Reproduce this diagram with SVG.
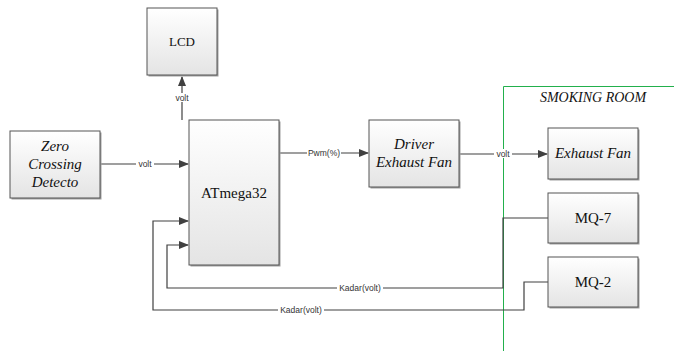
<svg xmlns="http://www.w3.org/2000/svg" width="674" height="351" viewBox="0 0 674 351">
<defs>
<linearGradient id="g" x1="0" y1="0" x2="0" y2="1">
<stop offset="0" stop-color="#ffffff"/>
<stop offset="1" stop-color="#e4e4e4"/>
</linearGradient>
<marker id="ah" markerWidth="10" markerHeight="8" refX="9" refY="4" orient="auto" markerUnits="userSpaceOnUse">
<path d="M0,0 L10,4 L0,8 Z" fill="#404040"/>
</marker>
<style>
.box{fill:url(#g);stroke:#555;stroke-width:1}
.sh{fill:#a0a0a0}
.t{font-family:"Liberation Serif","Times New Roman",serif;font-size:15px;fill:#111;text-anchor:middle}
.i{font-style:italic}
.ln{fill:none;stroke:#404040;stroke-width:1.2}
.lb{font-family:"Liberation Sans",Arial,sans-serif;font-size:8.5px;fill:#333;text-anchor:middle}
.bg{fill:#fff}
</style>
</defs>
<rect width="674" height="351" fill="#fff"/>
<g id="room">
<path d="M503.5,351 V86.5 H674" fill="none" stroke="#22b04c" stroke-width="1"/>
<text class="t i" x="593" y="102" style="font-size:14px">SMOKING ROOM</text>
</g>
<g id="connectors">
<path class="ln" d="M182,120 V77" marker-end="url(#ah)"/>
<path class="ln" d="M100,164 H188" marker-end="url(#ah)"/>
<path class="ln" d="M279,153 H368" marker-end="url(#ah)"/>
<path class="ln" d="M459,154 H547" marker-end="url(#ah)"/>
<path class="ln" d="M548,218 H503 V288 H167 V245 H188" marker-end="url(#ah)"/>
<path class="ln" d="M548,282 H524 V310 H153 V221 H188" marker-end="url(#ah)"/>
<rect class="bg" x="173" y="93" width="18" height="9"/>
<text class="lb" x="182" y="101">volt</text>
<rect class="bg" x="136" y="159" width="18" height="9"/>
<text class="lb" x="145" y="167">volt</text>
<rect class="bg" x="307" y="148" width="34" height="10"/>
<text class="lb" x="324" y="156">Pwm(%)</text>
<rect class="bg" x="494" y="149" width="18" height="9"/>
<text class="lb" x="503" y="157">volt</text>
<rect class="bg" x="337" y="283" width="46" height="10"/>
<text class="lb" x="360" y="291">Kadar(volt)</text>
<rect class="bg" x="278" y="305" width="46" height="10"/>
<text class="lb" x="301" y="313">Kadar(volt)</text>
</g>
<g id="lcd">
<rect class="sh" x="148.5" y="9.5" width="70" height="67"/>
<rect class="box" x="147" y="8" width="70" height="67"/>
<text class="t" x="182" y="46" style="font-size:13px">LCD</text>
</g>
<g id="zero-crossing">
<rect class="sh" x="11.5" y="132.5" width="90" height="67"/>
<rect class="box" x="10" y="131" width="90" height="67"/>
<text class="t i" x="55" y="151">Zero</text>
<text class="t i" x="55" y="169">Crossing</text>
<text class="t i" x="55" y="187">Detecto</text>
</g>
<g id="atmega">
<rect class="sh" x="190.5" y="121.5" width="90" height="145"/>
<rect class="box" x="189" y="120" width="90" height="145"/>
<text class="t" x="234" y="198">ATmega32</text>
</g>
<g id="driver">
<rect class="sh" x="370.5" y="121.5" width="90" height="67"/>
<rect class="box" x="369" y="120" width="90" height="67"/>
<text class="t i" x="414" y="149">Driver</text>
<text class="t i" x="414" y="167">Exhaust Fan</text>
</g>
<g id="exhaust-fan">
<rect class="sh" x="549.5" y="129.5" width="90" height="51"/>
<rect class="box" x="548" y="128" width="90" height="51"/>
<text class="t i" x="593" y="158">Exhaust Fan</text>
</g>
<g id="mq7">
<rect class="sh" x="549.5" y="194.5" width="90" height="50"/>
<rect class="box" x="548" y="193" width="90" height="50"/>
<text class="t" x="593" y="223">MQ-7</text>
</g>
<g id="mq2">
<rect class="sh" x="549.5" y="258.5" width="90" height="50"/>
<rect class="box" x="548" y="257" width="90" height="50"/>
<text class="t" x="593" y="287">MQ-2</text>
</g>
</svg>
